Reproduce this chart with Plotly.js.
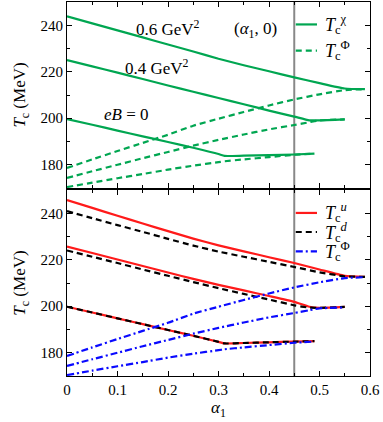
<!DOCTYPE html>
<html>
<head>
<meta charset="utf-8">
<script src="https://cdn.plot.ly/plotly-3.0.1.min.js"></script>
<style>
  html, body { margin: 0; padding: 0; background: #fff; }
  #myDiv { width: 383px; height: 422px; }
</style>
</head>
<body>
<div id="myDiv"></div>
<script>
// alpha_1 grids, one per magnetic field value
var alphaB0 = [0, 0.05, 0.1, 0.15, 0.2, 0.25, 0.3, 0.312, 0.35, 0.4, 0.45, 0.49];
var alphaB04 = [0, 0.05, 0.1, 0.15, 0.2, 0.25, 0.3, 0.35, 0.4, 0.45, 0.48, 0.5, 0.55];
var alphaB06 = [0, 0.05, 0.1, 0.15, 0.2, 0.25, 0.3, 0.35, 0.4, 0.45, 0.5, 0.55, 0.59];

// top panel: chiral (solid) and Polyakov loop (dashed) T_c, MeV
var tChiB0 = [199.6, 197.2, 194.7, 192.2, 189.8, 187.3, 184.6, 183.8, 183.9, 184.1, 184.4, 184.8];
var tPhiB0 = [170.4, 172.3, 174.2, 176.0, 177.9, 179.6, 181.1, 181.5, 182.3, 183.3, 184.3, 184.8];
var tChiB04 = [225.0, 222.3, 219.6, 216.9, 214.1, 211.4, 208.7, 206.0, 203.3, 200.7, 199.1, 199.1, 199.5];
var tPhiB04 = [174.3, 177.2, 180.0, 182.8, 185.5, 188.2, 190.7, 193.0, 195.2, 197.1, 198.3, 199.1, 199.5];
var tChiB06 = [243.8, 240.8, 237.8, 234.8, 231.7, 228.7, 225.6, 222.8, 220.2, 217.6, 215.1, 212.8, 212.5];
var tPhiB06 = [178.6, 182.3, 185.9, 189.4, 192.9, 196.8, 199.8, 202.7, 205.5, 208.1, 210.3, 212.1, 212.5];

// bottom panel: u and d quark T_c, MeV (Phi curves are the same as above)
var tUB0 = [199.8, 197.3, 194.8, 192.3, 189.8, 187.3, 184.7, 184.0, 184.2, 184.5, 184.8, 185.0];
var tDB0 = tUB0.slice();
var tUB04 = [225.7, 222.9, 220.1, 217.3, 214.5, 211.8, 209.2, 206.8, 204.4, 201.9, 199.8, 199.3, 199.7];
var tDB04 = [224.0, 221.3, 218.6, 215.8, 213.1, 210.4, 207.8, 205.3, 202.9, 200.4, 199.4, 199.3, 199.7];
var tUB06 = [245.7, 242.3, 238.9, 235.6, 232.3, 229.1, 226.2, 223.6, 221.1, 218.6, 215.8, 213.1, 212.6];
var tDB06 = [240.9, 237.9, 234.9, 232.0, 229.0, 226.1, 223.5, 221.3, 219.1, 216.9, 214.6, 212.9, 212.6];

var alphaCut = 0.45;

var green = "#00a651";
var red = "#ff1a1a";
var blue = "#0a0aff";
var dashed = "6px,4px";
var dashDot = "7px,3px,2px,3px";

function trace(x, y, color, dash, xa, ya) {
  return {
    x: x, y: y, type: "scatter", mode: "lines",
    xaxis: xa, yaxis: ya, showlegend: false, hoverinfo: "skip",
    line: { color: color, width: 2.2, dash: dash, shape: "spline", smoothing: 0.5 }
  };
}

var data = [
  trace(alphaB0, tChiB0, green, "solid", "x2", "y2"),
  trace(alphaB04, tChiB04, green, "solid", "x2", "y2"),
  trace(alphaB06, tChiB06, green, "solid", "x2", "y2"),
  trace(alphaB0, tPhiB0, green, dashed, "x2", "y2"),
  trace(alphaB04, tPhiB04, green, dashed, "x2", "y2"),
  trace(alphaB06, tPhiB06, green, dashed, "x2", "y2"),

  trace(alphaB0, tUB0, red, "solid", "x", "y"),
  trace(alphaB04, tUB04, red, "solid", "x", "y"),
  trace(alphaB06, tUB06, red, "solid", "x", "y"),
  trace(alphaB0, tDB0, "black", dashed, "x", "y"),
  trace(alphaB04, tDB04, "black", dashed, "x", "y"),
  trace(alphaB06, tDB06, "black", dashed, "x", "y"),
  trace(alphaB0, tPhiB0, blue, dashDot, "x", "y"),
  trace(alphaB04, tPhiB04, blue, dashDot, "x", "y"),
  trace(alphaB06, tPhiB06, blue, dashDot, "x", "y")
];

var serif = "'Liberation Serif', 'DejaVu Serif', serif";
var font = { family: serif, size: 15, color: "black" };

function xAxis(extra) {
  return Object.assign({
    range: [0, 0.6], dtick: 0.1, tick0: 0,
    ticks: "inside", ticklen: 5, tickcolor: "black",
    minor: { dtick: 0.05, ticks: "inside", ticklen: 3, tickcolor: "black" },
    showline: true, linecolor: "black", linewidth: 1, mirror: "ticks",
    showgrid: false, zeroline: false, tickfont: font
  }, extra);
}
function yAxis(extra) {
  return Object.assign({
    range: [170, 250], dtick: 20, tick0: 180,
    ticks: "inside", ticklen: 5, tickcolor: "black",
    minor: { dtick: 10, ticks: "inside", ticklen: 3, tickcolor: "black" },
    showline: true, linecolor: "black", linewidth: 1, mirror: "ticks",
    showgrid: false, zeroline: false, tickfont: font,
    title: { text: "<i>T</i><sub>c</sub> (MeV)", font: { family: serif, size: 17 }, standoff: 10 }
  }, extra);
}

// legend samples (paper coords) + labels
function legLine(y, color, dash) {
  return { type: "line", xref: "paper", yref: "paper", x0: 0.755, x1: 0.825, y0: y, y1: y,
           line: { color: color, width: 2.2, dash: dash } };
}
function legText(y, txt) {
  return { xref: "paper", yref: "paper", x: 0.845, y: y, xanchor: "left", yanchor: "middle",
           text: txt, showarrow: false, font: { family: serif, size: 18 } };
}

var layout = {
  width: 383, height: 422,
  margin: { l: 67, r: 13, t: 2, b: 46 },
  paper_bgcolor: "white", plot_bgcolor: "rgba(0,0,0,0)",
  font: font,
  showlegend: false,
  xaxis: xAxis({ anchor: "y", title: { text: "<i>α</i><sub>1</sub>", font: { family: serif, size: 17 }, standoff: 2 } }),
  yaxis: yAxis({ domain: [0, 0.4973], anchor: "x" }),
  xaxis2: xAxis({ anchor: "y2", matches: "x", showticklabels: false }),
  yaxis2: yAxis({ domain: [0.5027, 1], anchor: "x2" }),
  shapes: [
    { type: "line", xref: "x", yref: "y domain", x0: alphaCut, x1: alphaCut, y0: 0, y1: 1, layer: "below",
      line: { color: "#888888", width: 2 } },
    { type: "line", xref: "x2", yref: "y2 domain", x0: alphaCut, x1: alphaCut, y0: 0, y1: 1, layer: "below",
      line: { color: "#888888", width: 2 } },
    legLine(0.94, green, "solid"),
    legLine(0.87, green, dashed),
    legLine(0.436, red, "solid"),
    legLine(0.385, "black", dashed),
    legLine(0.333, blue, dashDot)
  ],
  annotations: [
    { xref: "x2", yref: "y2", x: 0.199, y: 238.7, text: "0.6 GeV<sup>2</sup>", showarrow: false, font: { family: serif, size: 17 } },
    { xref: "x2", yref: "y2", x: 0.179, y: 222.1, text: "0.4 GeV<sup>2</sup>", showarrow: false, font: { family: serif, size: 17 } },
    { xref: "x2", yref: "y2", x: 0.118, y: 201.4, text: "<i>eB</i> = 0", showarrow: false, font: { family: serif, size: 17 } },
    { xref: "x2", yref: "y2", x: 0.373, y: 237.8, text: "(<i>α</i><sub>1</sub>, 0)", showarrow: false, font: { family: serif, size: 17 } },
    legText(0.94, "<i>T</i><sub>c</sub><sup>χ</sup>"),
    legText(0.87, "<i>T</i><sub>c</sub><sup>Φ</sup>"),
    legText(0.436, "<i>T</i><sub>c</sub><sup><i>u</i></sup>"),
    legText(0.385, "<i>T</i><sub>c</sub><sup><i>d</i></sup>"),
    legText(0.333, "<i>T</i><sub>c</sub><sup>Φ</sup>")
  ]
};

var config = { staticPlot: true, displayModeBar: false };
Plotly.newPlot("myDiv", data, layout, config);
</script>
</body>
</html>
